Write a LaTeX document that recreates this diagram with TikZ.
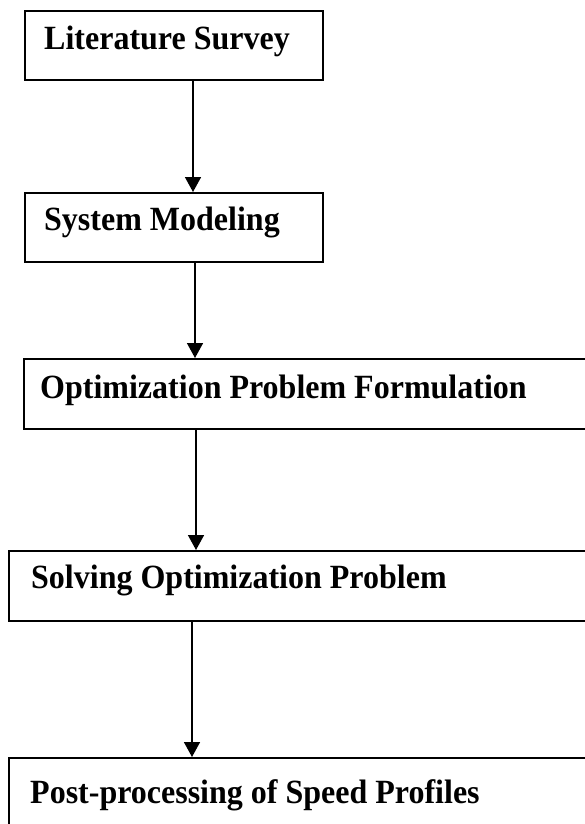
\documentclass[tikz,border=0pt]{standalone}
\usepackage{fontspec}
\setmainfont{Liberation Serif}
\usetikzlibrary{arrows.meta}
\newcommand{\tallbf}[1]{\scalebox{1}[1.06]{#1}}
\begin{document}
\begin{tikzpicture}[x=1pt,y=-1pt,
  box/.style={draw=black, line width=1.8pt, rectangle, inner sep=0pt, anchor=north west},
  lbl/.style={font=\fontsize{32}{36}\selectfont\bfseries, inner sep=0pt, anchor=base west},
  arr/.style={line width=1.6pt, -{Triangle[length=15pt,width=16pt]}}]
\useasboundingbox (0,0) rectangle (585,824);
\clip (0,0) rectangle (585,824);
\fill[white] (0,0) rectangle (585,824);
% boxes
\node[box, minimum width=298pt, minimum height=69pt] (b1) at (24,10) {};
\node[box, minimum width=298pt, minimum height=69pt] (b2) at (24,192) {};
\node[box, minimum width=600pt, minimum height=70pt] (b3) at (23,358) {};
\node[box, minimum width=600pt, minimum height=70pt] (b4) at (8,550) {};
\node[box, minimum width=600pt, minimum height=90pt] (b5) at (8,757) {};
% labels
\node[lbl] (t1) at (44,50) {\tallbf{Literature Survey}};
\node[lbl] (t2) at (44,230) {\tallbf{System Modeling}};
\node[lbl] (t3) at (40,398) {\tallbf{Optimization Problem Formulation}};
\node[lbl] (t4) at (31,588) {\tallbf{Solving Optimization Problem}};
\node[lbl] (t5) at (30,803) {\tallbf{Post-processing of Speed Profiles}};
% arrow columns
\coordinate (x1) at (193,0);
\coordinate (x2) at (195,0);
\coordinate (x3) at (196,0);
\coordinate (x4) at (192,0);
\draw[arr] (x1 |- b1.south) -- (x1 |- b2.north);
\draw[arr] (x2 |- b2.south) -- (x2 |- b3.north);
\draw[arr] (x3 |- b3.south) -- (x3 |- b4.north);
\draw[arr] (x4 |- b4.south) -- (x4 |- b5.north);
\end{tikzpicture}
\end{document}
